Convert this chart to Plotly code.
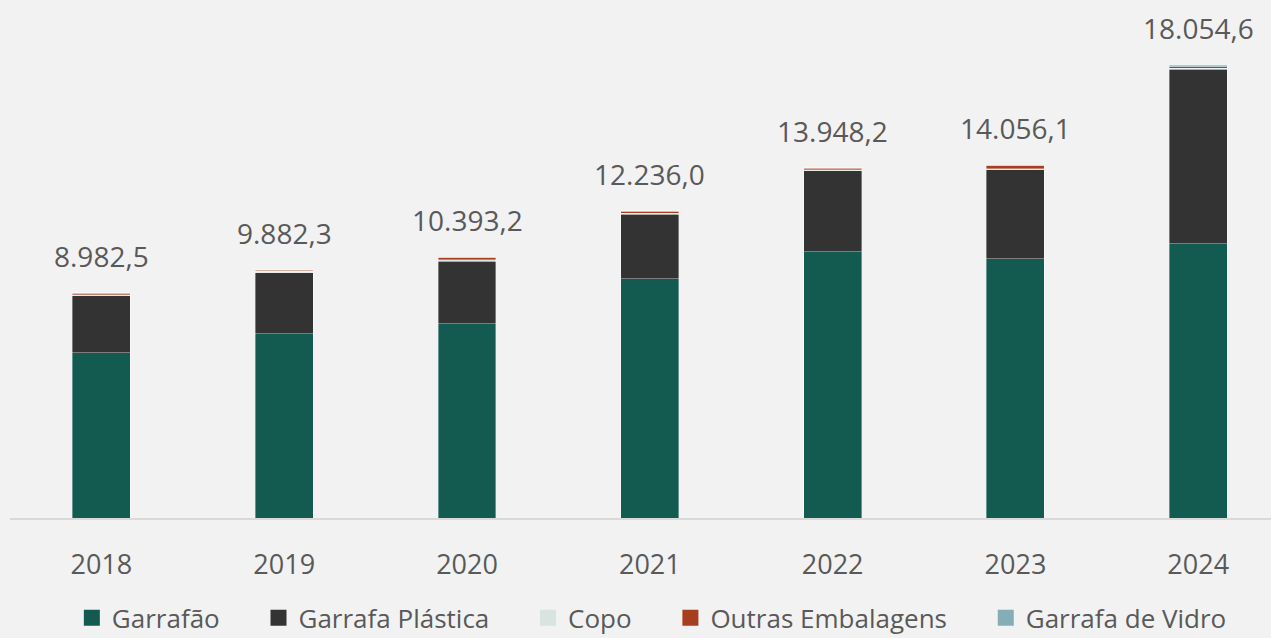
import plotly.graph_objects as go

years = ["2018", "2019", "2020", "2021", "2022", "2023", "2024"]
garrafao = [6576, 7334, 7732, 9526, 10602, 10323, 10921]
garrafa_plastica = [2272, 2431, 2491, 2570, 3228, 3547, 6955]
copo = [45, 60, 70, 50, 50, 50, 50]
outras = [45, 40, 70, 60, 50, 110, 60]
garrafa_vidro = [44.5, 17.3, 30.2, 30, 18.2, 26.1, 48.6]
totals = [8982.5, 9882.3, 10393.2, 12236.0, 13948.2, 14056.1, 18054.6]
total_labels = ["8.982,5", "9.882,3", "10.393,2", "12.236,0", "13.948,2", "14.056,1", "18.054,6"]

series = [
    ("Garrafão", garrafao, "#135A50"),
    ("Garrafa Plástica", garrafa_plastica, "#333333"),
    ("Copo", copo, "#D9E3DF"),
    ("Outras Embalagens", outras, "#A63F1F"),
    ("Garrafa de Vidro", garrafa_vidro, "#84ADB5"),
]

FONT = "Segoe UI, Open Sans, Noto Sans, sans-serif"
NB = "\u00a0" * 5
fig = go.Figure()
for name, vals, col in series:
    fig.add_trace(go.Bar(
        x=years, y=vals, name=name, showlegend=False,
        marker=dict(color=col, line=dict(color="rgba(255,255,255,0.45)", width=0.8)),
    ))
# legend entries with larger square symbols
for i, (name, vals, col) in enumerate(series):
    fig.add_trace(go.Scatter(
        x=[None], y=[None], name=name + (NB if i < len(series) - 1 else ""), mode="markers",
        marker=dict(symbol="square", size=17, color=col),
    ))

for i, (t, lab) in enumerate(zip(totals, total_labels)):
    fig.add_annotation(x=i, y=t, xref="x", yref="y", text=lab, showarrow=False,
                       yanchor="middle", yshift=37,
                       font=dict(size=28, color="#595959", family=FONT))

fig.update_layout(
    barmode="stack",
    bargap=0.683,
    width=1271, height=638,
    margin=dict(l=10, r=0, t=16, b=120, autoexpand=False),
    paper_bgcolor="#F2F2F2",
    plot_bgcolor="#F2F2F2",
    font=dict(family=FONT, color="#595959", size=24),
    showlegend=True,
    legend=dict(orientation="h", x=0.509, xanchor="center", y=-0.199, yanchor="middle",
                font=dict(size=26, color="#595959"), traceorder="normal",
                itemwidth=30, itemsizing="trace", bgcolor="rgba(0,0,0,0)"),
)
fig.update_xaxes(type="category", range=[-0.5, 6.398], showline=True, linecolor="#D9D9D9",
                 linewidth=1.5, ticks="outside", ticklen=22, tickcolor="rgba(0,0,0,0)",
                 tickfont=dict(size=27, color="#595959"), showgrid=False, zeroline=False)
fig.update_yaxes(range=[0, 20000], showticklabels=False, showline=False, showgrid=False,
                 zeroline=False, ticks="")

fig.write_html("out.html", config={"displayModeBar": False},
               post_script="document.body.style.margin='0';")
